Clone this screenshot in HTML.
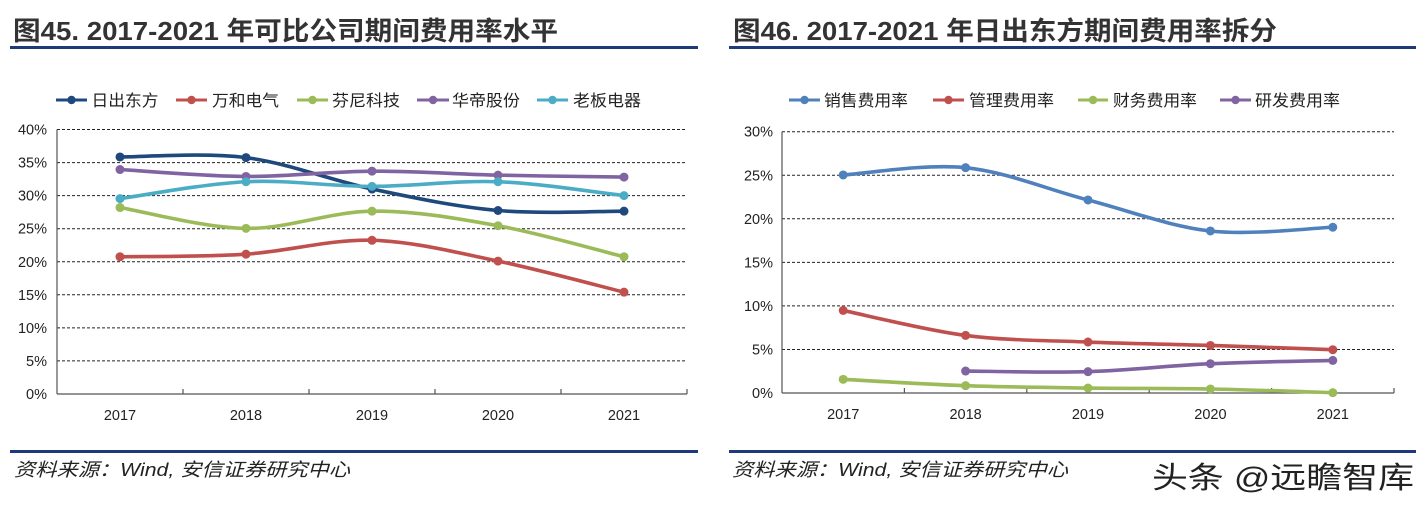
<!DOCTYPE html>
<html>
<head>
<meta charset="utf-8">
<style>
html,body{margin:0;padding:0;background:#fff;}
svg{display:block;}
.t{font-family:"Liberation Sans","Noto Sans CJK SC",sans-serif;}
</style>
</head>
<body>
<svg width="1426" height="508" viewBox="0 0 1426 508" xmlns="http://www.w3.org/2000/svg" class="t">
<rect width="1426" height="508" fill="#fff"/>

<!-- Titles -->
<text x="13" y="40" font-size="26" font-weight="bold" fill="#333" textLength="545" lengthAdjust="spacingAndGlyphs" font-family="Liberation Sans, Noto Sans CJK SC, sans-serif">图45. 2017-2021 年可比公司期间费用率水平</text>
<text x="733" y="40" font-size="26" font-weight="bold" fill="#333" textLength="544" lengthAdjust="spacingAndGlyphs" font-family="Liberation Sans, Noto Sans CJK SC, sans-serif">图46. 2017-2021 年日出东方期间费用率拆分</text>
<rect x="10" y="46" width="688" height="3" fill="#1F3A78"/>
<rect x="729" y="46" width="687" height="3" fill="#1F3A78"/>

<!-- Bottom lines and source -->
<rect x="10" y="450" width="688" height="3" fill="#1F3A78"/>
<rect x="729" y="450" width="687" height="3" fill="#1F3A78"/>
<text x="14" y="476" font-size="18.5" font-style="italic" fill="#222" textLength="336" lengthAdjust="spacingAndGlyphs" font-family="Liberation Sans, Noto Sans CJK SC, sans-serif">资料来源：Wind, 安信证券研究中心</text>
<text x="732" y="476" font-size="18.5" font-style="italic" fill="#222" textLength="336" lengthAdjust="spacingAndGlyphs" font-family="Liberation Sans, Noto Sans CJK SC, sans-serif">资料来源：Wind, 安信证券研究中心</text>
<text x="1153" y="489" font-size="30" fill="#fff" stroke="#fff" stroke-width="3" textLength="262" lengthAdjust="spacingAndGlyphs" font-family="Liberation Sans, Noto Sans CJK SC, sans-serif">头条 @远瞻智库</text>
<text x="1152" y="488" font-size="30" fill="#222" textLength="262" lengthAdjust="spacingAndGlyphs" font-family="Liberation Sans, Noto Sans CJK SC, sans-serif">头条 @远瞻智库</text>

<!-- ============ LEFT CHART ============ -->
<g font-size="16" fill="#222" font-family="Liberation Sans, Noto Sans CJK SC, sans-serif">
  <line x1="56" y1="100" x2="87" y2="100" stroke="#1F497D" stroke-width="3"/><circle cx="71.5" cy="100" r="4.2" fill="#1F497D"/>
  <text x="91.5" y="106" textLength="67" lengthAdjust="spacingAndGlyphs">日出东方</text>
  <line x1="176" y1="100" x2="207" y2="100" stroke="#C0504D" stroke-width="3"/><circle cx="191.5" cy="100" r="4.2" fill="#C0504D"/>
  <text x="212" y="106" textLength="67" lengthAdjust="spacingAndGlyphs">万和电气</text>
  <line x1="297" y1="100" x2="328" y2="100" stroke="#9BBB59" stroke-width="3"/><circle cx="312.5" cy="100" r="4.2" fill="#9BBB59"/>
  <text x="332" y="106" textLength="68" lengthAdjust="spacingAndGlyphs">芬尼科技</text>
  <line x1="417" y1="100" x2="449" y2="100" stroke="#8064A2" stroke-width="3"/><circle cx="433" cy="100" r="4.2" fill="#8064A2"/>
  <text x="452" y="106" textLength="68" lengthAdjust="spacingAndGlyphs">华帝股份</text>
  <line x1="537" y1="100" x2="568" y2="100" stroke="#4BACC6" stroke-width="3"/><circle cx="552.5" cy="100" r="4.2" fill="#4BACC6"/>
  <text x="573" y="106" textLength="68" lengthAdjust="spacingAndGlyphs">老板电器</text>
</g>

<g stroke="#222" stroke-width="1" stroke-dasharray="3,2">
  <line x1="57" y1="129.5" x2="687" y2="129.5"/>
  <line x1="57" y1="162.6" x2="687" y2="162.6"/>
  <line x1="57" y1="195.6" x2="687" y2="195.6"/>
  <line x1="57" y1="228.7" x2="687" y2="228.7"/>
  <line x1="57" y1="261.8" x2="687" y2="261.8"/>
  <line x1="57" y1="294.8" x2="687" y2="294.8"/>
  <line x1="57" y1="327.9" x2="687" y2="327.9"/>
  <line x1="57" y1="360.9" x2="687" y2="360.9"/>
</g>
<g stroke="#555" stroke-width="1.2">
  <line x1="57" y1="129.5" x2="57" y2="394"/>
  <line x1="57" y1="394" x2="687" y2="394"/>
  <line x1="183" y1="389" x2="183" y2="394"/>
  <line x1="309" y1="389" x2="309" y2="394"/>
  <line x1="435" y1="389" x2="435" y2="394"/>
  <line x1="561" y1="389" x2="561" y2="394"/>
  <line x1="687" y1="389" x2="687" y2="394"/>
</g>
<g font-size="14.5" fill="#222" text-anchor="end">
  <text x="47" y="134.5">40%</text>
  <text x="47" y="167.6">35%</text>
  <text x="47" y="200.6">30%</text>
  <text x="47" y="233.7">25%</text>
  <text x="47" y="266.8">20%</text>
  <text x="47" y="299.8">15%</text>
  <text x="47" y="332.9">10%</text>
  <text x="47" y="365.9">5%</text>
  <text x="47" y="399">0%</text>
</g>
<g font-size="14.5" fill="#222" text-anchor="middle">
  <text x="120" y="420">2017</text>
  <text x="246" y="420">2018</text>
  <text x="372" y="420">2019</text>
  <text x="498" y="420">2020</text>
  <text x="624" y="420">2021</text>
</g>

<g fill="none" stroke-width="3.6" stroke-linecap="round">
  <path stroke="#1F497D" d="M120,156.94 C141,157.05 204,152.26 246,157.60 C288,162.95 330,180.19 372,189.01 C414,197.83 456,206.81 498,210.50 C540,214.19 603,211.05 624,211.16"/>
  <path stroke="#C0504D" d="M120,256.79 C141,256.35 204,256.91 246,254.15 C288,251.40 330,239.10 372,240.26 C414,241.42 456,252.44 498,261.09 C540,269.74 603,286.99 624,292.17"/>
  <path stroke="#9BBB59" d="M120,207.53 C141,211.00 204,227.76 246,228.36 C288,228.97 330,211.60 372,211.16 C414,210.72 456,218.11 498,225.71 C540,233.32 603,251.61 624,256.79"/>
  <path stroke="#8064A2" d="M120,169.51 C141,170.67 204,176.18 246,176.45 C288,176.73 330,171.38 372,171.16 C414,170.94 456,174.14 498,175.13 C540,176.12 603,176.78 624,177.11"/>
  <path stroke="#4BACC6" d="M120,198.60 C141,195.79 204,183.78 246,181.74 C288,179.70 330,186.37 372,186.37 C414,186.37 456,180.20 498,181.74 C540,183.28 603,193.31 624,195.62"/>
</g>
<g>
  <g fill="#1F497D"><circle cx="120" cy="156.94" r="4.5"/><circle cx="246" cy="157.6" r="4.5"/><circle cx="372" cy="189.01" r="4.5"/><circle cx="498" cy="210.5" r="4.5"/><circle cx="624" cy="211.16" r="4.5"/></g>
  <g fill="#C0504D"><circle cx="120" cy="256.79" r="4.5"/><circle cx="246" cy="254.15" r="4.5"/><circle cx="372" cy="240.26" r="4.5"/><circle cx="498" cy="261.09" r="4.5"/><circle cx="624" cy="292.17" r="4.5"/></g>
  <g fill="#9BBB59"><circle cx="120" cy="207.53" r="4.5"/><circle cx="246" cy="228.36" r="4.5"/><circle cx="372" cy="211.16" r="4.5"/><circle cx="498" cy="225.71" r="4.5"/><circle cx="624" cy="256.79" r="4.5"/></g>
  <g fill="#8064A2"><circle cx="120" cy="169.51" r="4.5"/><circle cx="246" cy="176.45" r="4.5"/><circle cx="372" cy="171.16" r="4.5"/><circle cx="498" cy="175.13" r="4.5"/><circle cx="624" cy="177.11" r="4.5"/></g>
  <g fill="#4BACC6"><circle cx="120" cy="198.6" r="4.5"/><circle cx="246" cy="181.74" r="4.5"/><circle cx="372" cy="186.37" r="4.5"/><circle cx="498" cy="181.74" r="4.5"/><circle cx="624" cy="195.62" r="4.5"/></g>
</g>

<!-- ============ RIGHT CHART ============ -->
<g font-size="16" fill="#222" font-family="Liberation Sans, Noto Sans CJK SC, sans-serif">
  <line x1="789" y1="100" x2="820" y2="100" stroke="#4F81BD" stroke-width="3"/><circle cx="804.5" cy="100" r="4.2" fill="#4F81BD"/>
  <text x="824" y="106" textLength="84" lengthAdjust="spacingAndGlyphs">销售费用率</text>
  <line x1="933" y1="100" x2="964" y2="100" stroke="#C0504D" stroke-width="3"/><circle cx="948.5" cy="100" r="4.2" fill="#C0504D"/>
  <text x="969" y="106" textLength="85" lengthAdjust="spacingAndGlyphs">管理费用率</text>
  <line x1="1078" y1="100" x2="1108" y2="100" stroke="#9BBB59" stroke-width="3"/><circle cx="1093" cy="100" r="4.2" fill="#9BBB59"/>
  <text x="1113" y="106" textLength="84" lengthAdjust="spacingAndGlyphs">财务费用率</text>
  <line x1="1220" y1="100" x2="1251" y2="100" stroke="#8064A2" stroke-width="3"/><circle cx="1235.5" cy="100" r="4.2" fill="#8064A2"/>
  <text x="1255" y="106" textLength="85" lengthAdjust="spacingAndGlyphs">研发费用率</text>
</g>

<g stroke="#222" stroke-width="1" stroke-dasharray="3,2">
  <line x1="782" y1="131.7" x2="1394" y2="131.7"/>
  <line x1="782" y1="175.3" x2="1394" y2="175.3"/>
  <line x1="782" y1="218.8" x2="1394" y2="218.8"/>
  <line x1="782" y1="262.4" x2="1394" y2="262.4"/>
  <line x1="782" y1="305.9" x2="1394" y2="305.9"/>
  <line x1="782" y1="349.5" x2="1394" y2="349.5"/>
</g>
<g stroke="#555" stroke-width="1.2">
  <line x1="782" y1="131.7" x2="782" y2="393"/>
  <line x1="782" y1="393" x2="1394" y2="393"/>
  <line x1="904.4" y1="388" x2="904.4" y2="393"/>
  <line x1="1026.8" y1="388" x2="1026.8" y2="393"/>
  <line x1="1149.2" y1="388" x2="1149.2" y2="393"/>
  <line x1="1271.6" y1="388" x2="1271.6" y2="393"/>
  <line x1="1394" y1="388" x2="1394" y2="393"/>
</g>
<g font-size="14.5" fill="#222" text-anchor="end">
  <text x="773" y="136.7">30%</text>
  <text x="773" y="180.3">25%</text>
  <text x="773" y="223.8">20%</text>
  <text x="773" y="267.4">15%</text>
  <text x="773" y="310.9">10%</text>
  <text x="773" y="354.5">5%</text>
  <text x="773" y="398">0%</text>
</g>
<g font-size="14.5" fill="#222" text-anchor="middle">
  <text x="843.2" y="419">2017</text>
  <text x="965.6" y="419">2018</text>
  <text x="1088" y="419">2019</text>
  <text x="1210.4" y="419">2020</text>
  <text x="1332.8" y="419">2021</text>
</g>

<g fill="none" stroke-width="3.6" stroke-linecap="round">
  <path stroke="#4F81BD" d="M843.2,174.99 C863.6,173.77 924.8,163.50 965.6,167.67 C1006.4,171.84 1047.2,189.44 1088,199.99 C1128.8,210.54 1169.6,226.45 1210.4,230.99 C1251.2,235.53 1312.4,227.87 1332.8,227.25"/>
  <path stroke="#C0504D" d="M843.2,310.43 C863.6,314.60 924.8,330.16 965.6,335.43 C1006.4,340.70 1047.2,340.38 1088,342.05 C1128.8,343.72 1169.6,344.16 1210.4,345.44 C1251.2,346.72 1312.4,349.00 1332.8,349.71"/>
  <path stroke="#9BBB59" d="M843.2,379.33 C863.6,380.39 924.8,384.23 965.6,385.68 C1006.4,387.13 1047.2,387.49 1088,388.04 C1128.8,388.59 1169.6,388.22 1210.4,388.99 C1251.2,389.76 1312.4,392.04 1332.8,392.65"/>
  <path stroke="#8064A2" d="M965.6,371.05 C986,371.15 1047.2,372.88 1088,371.66 C1128.8,370.44 1169.6,365.60 1210.4,363.73 C1251.2,361.86 1312.4,360.97 1332.8,360.42"/>
</g>
<g>
  <g fill="#4F81BD"><circle cx="843.2" cy="174.99" r="4.5"/><circle cx="965.6" cy="167.67" r="4.5"/><circle cx="1088" cy="199.99" r="4.5"/><circle cx="1210.4" cy="230.99" r="4.5"/><circle cx="1332.8" cy="227.25" r="4.5"/></g>
  <g fill="#C0504D"><circle cx="843.2" cy="310.43" r="4.5"/><circle cx="965.6" cy="335.43" r="4.5"/><circle cx="1088" cy="342.05" r="4.5"/><circle cx="1210.4" cy="345.44" r="4.5"/><circle cx="1332.8" cy="349.71" r="4.5"/></g>
  <g fill="#9BBB59"><circle cx="843.2" cy="379.33" r="4.5"/><circle cx="965.6" cy="385.68" r="4.5"/><circle cx="1088" cy="388.04" r="4.5"/><circle cx="1210.4" cy="388.99" r="4.5"/><circle cx="1332.8" cy="392.65" r="4.5"/></g>
  <g fill="#8064A2"><circle cx="965.6" cy="371.05" r="4.5"/><circle cx="1088" cy="371.66" r="4.5"/><circle cx="1210.4" cy="363.73" r="4.5"/><circle cx="1332.8" cy="360.42" r="4.5"/></g>
</g>
</svg>
</body>
</html>
